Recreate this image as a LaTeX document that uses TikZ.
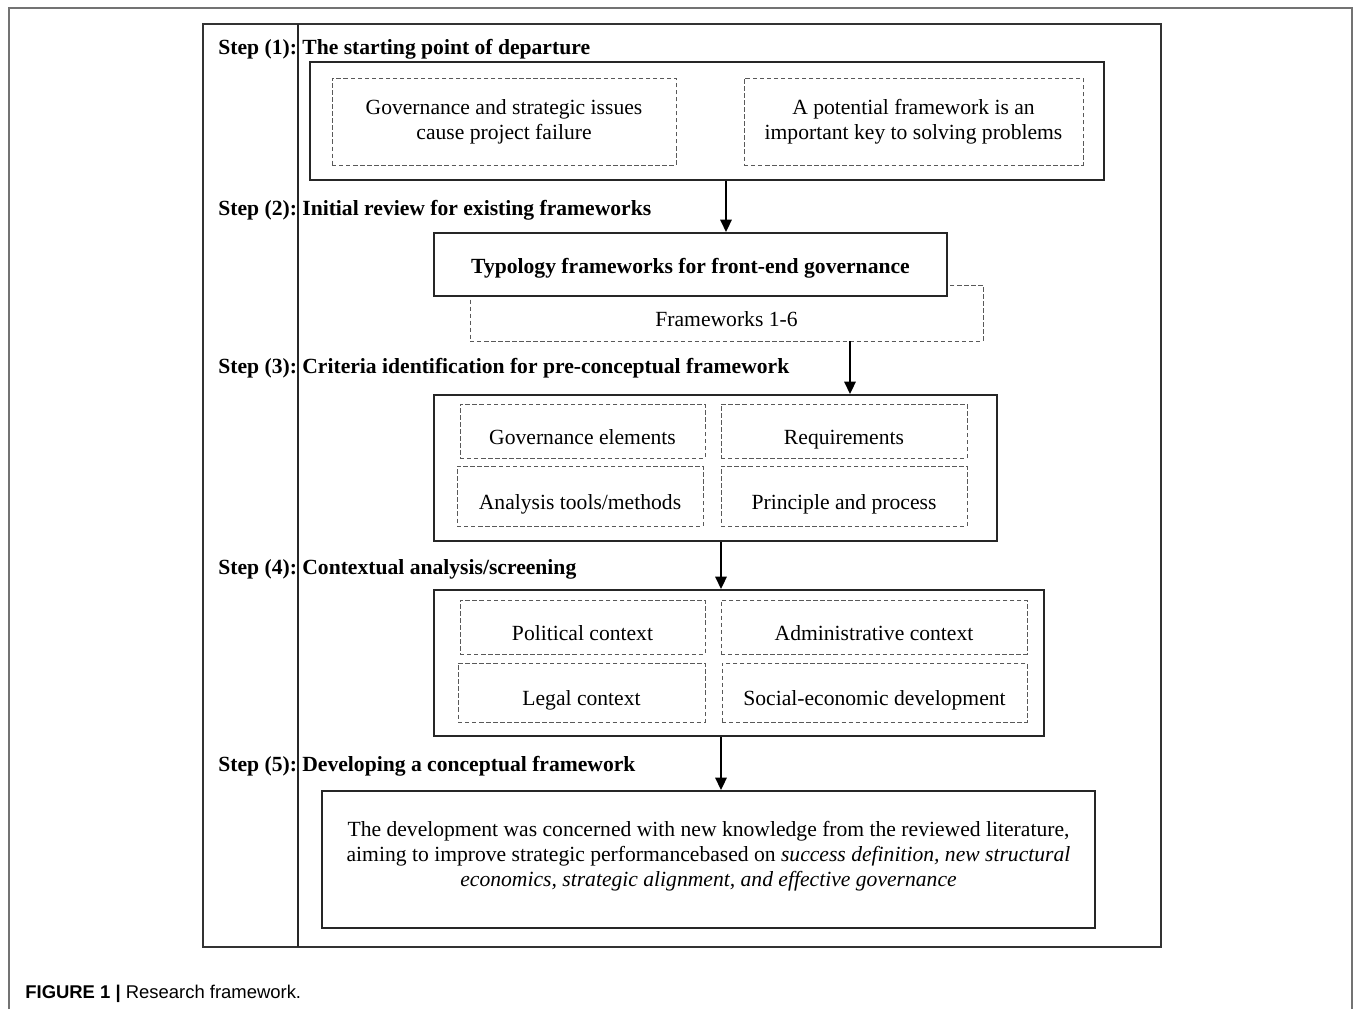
\documentclass[tikz,border=0pt]{standalone}
\usepackage{fontspec}
\setmainfont{Liberation Serif}
\newfontfamily\capfont{Liberation Sans}
\usetikzlibrary{arrows.meta,calc}
\definecolor{framegray}{rgb}{0.45,0.45,0.45}
\definecolor{dashgray}{rgb}{0.35,0.35,0.35}

\begin{document}
\begin{tikzpicture}[x=0.02cm,y=-0.02cm,font=\fontsize{12.3}{14.2}\selectfont]
      \tikzstyle{stage}=[draw=black!85,line width=1.2pt,fill=white,align=center,inner sep=0pt]
      \tikzstyle{item}=[draw=dashgray,dash pattern=on 2.5pt off 1.5pt,line width=0.5pt,align=center,inner sep=0pt]
      \tikzstyle{single}=[text height=1.1em,text depth=0.08em]
      \tikzstyle{cell}=[item,text height=1.55em,text depth=0.07em]
      \tikzstyle{steplabel}=[anchor=west,inner sep=0pt,font=\fontsize{12.3}{14.2}\selectfont\bfseries]
      \tikzstyle{arr}=[line width=1.1pt,-{Triangle[length=7pt,width=6.5pt]}]
      \useasboundingbox (0,0) rectangle (1355,1009);
      % page frame and step column
      \draw[framegray,line width=0.6pt] (9,1009) -- (9,8) -- (1352,8) -- (1352,1009);
      \draw[black!80,line width=0.7pt] (203,24) rectangle (1161,947);
      \draw[black!85,line width=1pt] (298,24) -- (298,947);
      % step titles
      \node[steplabel] (s_1) at (218,49) {Step (1):};
      \node[steplabel] (t_1) at (302,49) {The starting point of departure};
      \node[steplabel] (s_2) at (218,210) {Step (2):};
      \node[steplabel] (t_2) at (302,210) {Initial review for existing frameworks};
      \node[steplabel] (s_3) at (218,368) {Step (3):};
      \node[steplabel] (t_3) at (302,368) {Criteria identification for pre-conceptual framework};
      \node[steplabel] (s_4) at (218,569) {Step (4):};
      \node[steplabel] (t_4) at (302,569) {Contextual analysis/screening};
      \node[steplabel] (s_5) at (218,766) {Step (5):};
      \node[steplabel] (t_5) at (302,766) {Developing a conceptual framework};
      % step 1
      \node[stage,minimum width=15.88cm,minimum height=2.36cm] (box_1) at (707,121) {};
      \node[item,minimum width=6.88cm,minimum height=1.74cm] (issues) at (504,121.5) {Governance and strategic issues\\cause project failure};
      \node[item,minimum width=6.78cm,minimum height=1.74cm] (key) at (913.5,121.5) {A potential framework is an\\important key to solving problems};
      % step 2
      \node[item,minimum width=10.26cm,minimum height=1.12cm] (fw) at (726.5,313) {};
      \node[inner sep=0pt] (fw_text) at (726.5,319) {Frameworks 1-6};
      \node[stage,single,minimum width=10.26cm,minimum height=1.26cm,font=\fontsize{12.3}{14.2}\selectfont\bfseries] (box_2) at (690.5,264.5) {Typology frameworks for front-end governance};
      % step 3
      \node[stage,minimum width=11.26cm,minimum height=2.92cm] (box_3) at (715.5,468) {};
      \node[cell,minimum width=4.9cm,minimum height=1.08cm] (elements) at (582.5,431) {Governance elements};
      \node[cell,minimum width=4.92cm,minimum height=1.08cm] (requirements) at (844,431) {Requirements};
      \node[cell,minimum width=4.92cm,minimum height=1.2cm] (tools) at (580,496) {Analysis tools/methods};
      \node[cell,minimum width=4.92cm,minimum height=1.2cm] (principle) at (844,496) {Principle and process};
      % step 4
      \node[stage,minimum width=12.2cm,minimum height=2.92cm] (box_4) at (739,663) {};
      \node[cell,minimum width=4.9cm,minimum height=1.08cm] (political) at (582.5,627) {Political context};
      \node[cell,minimum width=6.12cm,minimum height=1.08cm] (administrative) at (874,627) {Administrative context};
      \node[cell,minimum width=4.94cm,minimum height=1.18cm] (legal) at (581.5,692.5) {Legal context};
      \node[cell,minimum width=6.1cm,minimum height=1.18cm] (social) at (874.5,692.5) {Social-economic development};
      % step 5
      \node[stage,minimum width=15.46cm,minimum height=2.74cm] (box_5) at (708.5,859.5) {};
      \node[align=center,inner sep=0pt] (box_5_text) at (708.5,856) {The development was concerned with new knowledge from the reviewed literature,\\aiming to improve strategic performancebased on \textit{success definition, new structural}\\\textit{economics, strategic alignment, and effective governance}};
      % arrows
      \coordinate (a_1) at (726,0);
      \coordinate (a_2) at (850,0);
      \coordinate (a_3) at (721,0);
      \draw[arr] (box_1.south -| a_1) -- (box_2.north -| a_1);
      \draw[arr] (fw.south -| a_2) -- (box_3.north -| a_2);
      \draw[arr] (box_3.south -| a_3) -- (box_4.north -| a_3);
      \draw[arr] (box_4.south -| a_3) -- (box_5.north -| a_3);
      % caption
      \node[anchor=west,inner sep=0pt,font=\capfont\fontsize{10.5}{12}\selectfont] (caption) at (25,994) {\textbf{FIGURE 1 |} Research framework.};
    \end{tikzpicture}
\end{document}
